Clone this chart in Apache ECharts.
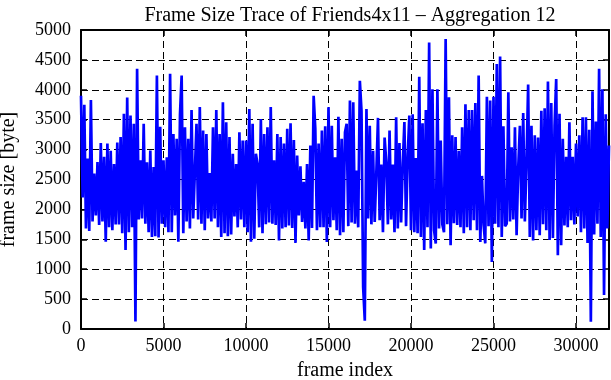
<!DOCTYPE html>
<html>
<head>
<meta charset="utf-8">
<script src="https://cdn.jsdelivr.net/npm/echarts@6/dist/echarts.min.js"></script>
<style>html,body{margin:0;padding:0;background:#fff;}#c{width:611px;height:380px;}</style>
</head>
<body>
<div id="c"></div>
<script>
// Aggregated frame sizes (byte), one value every frameStep frames
const frameStep = 100;
const sizes00k = [3900,2200,3750,1680,2850,1640,3830,1800,2600,1900,2790,1740,3110,1800,2880,1460,3100,1700,2980,1650,2760,1750,3120,1750,3210,1600,3600,1320,3870,1620,3570,1700,3430,125,4350,1830,2820,1850,3430,1760,2790,1620,2985,1540,2710,1550,4240,1530,3380,1760,2820,1700,2870,1620,4270];
const sizes05k = [1620,3260,1900,3180,1460,3590,4240,1600,3375,1800,3180,1680,3660,1850,2620,3430,1830,3710,1760,3320,1650,3260,1850,2610,1800,3375,1850,3660,1700,3260,1540,3790,1600,3455,1550,3210,1580,2930,1880,2760,1700,3290,1830,3150,1700,3150,1620,3680,1460,3430,1510,2930,2760];
const sizes10k = [1700,3510,1600,3260,1750,3375,1780,3710,1760,2820,1740,3260,1480,3210,1680,3100,1700,3350,1730,3440,1690,3160,1440,2900,1900,2720,1790,2460,1680,2760,1480,3070,1690,3900,3350,1650,3100,1700,3320,1700,3390,1457,3710,1700,3400,1820,2870,1650,3550,1570,3180,1620,3290];
const sizes16k = [3430,1720,3820,1780,3790,1760,2650,1700,4150,3650,700,140,3680,1850,3400,1750,2980,1790,2620,3530,1820,2750,1620,3200,2800,1750,3320,1830,2750,1620,3540,1680,3110,1780,2760,3460,1720,2900,3570,1650,3590,1620,2860,1600,4220,1540,3440,1320,3660,1700,4790,1345,4010,1650];
const sizes21k = [1430,4010,1680,3150,1750,1620,4850,1750,3875,1400,3240,1770,3210,1740,2980,1700,3375,1600,3760,1700,3660,1650,3660,1820,3780,1650,4240,1457,2560,1740,1430,3885,1720,3820,1120,3885,1760,4430,1700,4555,1540,3390,1720,1760,3960,1800,3040,1830,3375,1570,2710,3400,1850];
const sizes26k = [3610,1800,2790,4090,1540,3400,1480,3240,1650,3200,1570,3650,1750,3690,1650,4140,1490,3780,1520,3400,4180,1235,3600,1400,3180,1730,2880,1700,3455,1820,2880,1750,3100,1880,3240,1620,3540,1680,3540,1440,3330,120,3975,1580,3470,1760,4350,1540,4010,570,3590,1680,3070];
const frameSize = [].concat(sizes00k, sizes05k, sizes10k, sizes16k, sizes21k, sizes26k);

const xTicks = {min: 0, max: 32000, interval: 5000};
const yTicks = {min: 0, max: 5000, interval: 500};
const titleText = 'Frame Size Trace of Friends4x11 \u2013 Aggregation 12';
const xName = 'frame index';
const yName = 'frame size [byte]';

const seriesData = frameSize.map((v, i) => [i * frameStep, v]);

const FONT = '"Liberation Serif", "DejaVu Serif", serif';
const chart = echarts.init(document.getElementById('c'), null, {renderer: 'canvas'});
const dash = {color: '#000', width: 1, type: [7, 4]};
chart.setOption({
  animation: false,
  backgroundColor: '#fff',
  title: {
    text: titleText, left: 345, top: 1, textAlign: 'center',
    textStyle: {fontFamily: FONT, fontSize: 20, fontWeight: 'normal', color: '#000'}
  },
  grid: {left: 81, right: 2, top: 30, bottom: 51, containLabel: false, outerBoundsMode: 'none'},
  xAxis: [{
    type: 'value', position: 'bottom', min: xTicks.min, max: xTicks.max, interval: xTicks.interval,
    name: xName, nameLocation: 'middle', nameGap: 32,
    nameTextStyle: {fontFamily: FONT, fontSize: 20, color: '#000'},
    axisLine: {show: true, onZero: false, lineStyle: {color: '#000', width: 2}},
    axisTick: {show: true, inside: true, length: 6, lineStyle: {color: '#000', width: 1.5}},
    axisLabel: {fontFamily: FONT, fontSize: 18, color: '#000', margin: 8,
      formatter: v => (v % 5000 === 0 ? String(v) : '')},
    splitLine: {show: true, lineStyle: dash}
  }, {
    type: 'value', position: 'top', min: xTicks.min, max: xTicks.max, interval: xTicks.interval,
    axisLine: {show: true, onZero: false, lineStyle: {color: '#000', width: 2}},
    axisTick: {show: true, inside: true, length: 6, lineStyle: {color: '#000', width: 1.5}},
    axisLabel: {show: false}, splitLine: {show: false}
  }],
  yAxis: [{
    type: 'value', position: 'left', min: yTicks.min, max: yTicks.max, interval: yTicks.interval,
    name: yName, nameLocation: 'middle', nameGap: 62, nameRotate: 90,
    nameTextStyle: {fontFamily: FONT, fontSize: 20, color: '#000'},
    axisLine: {show: true, onZero: false, lineStyle: {color: '#000', width: 2}},
    axisTick: {show: true, inside: true, length: 6, lineStyle: {color: '#000', width: 1.5}},
    axisLabel: {fontFamily: FONT, fontSize: 18, color: '#000', margin: 10, formatter: v => String(v)},
    splitLine: {show: true, lineStyle: dash}
  }, {
    type: 'value', position: 'right', min: yTicks.min, max: yTicks.max, interval: yTicks.interval,
    axisLine: {show: true, onZero: false, lineStyle: {color: '#000', width: 2}},
    axisTick: {show: true, inside: true, length: 6, lineStyle: {color: '#000', width: 1.5}},
    axisLabel: {show: false}, splitLine: {show: false}
  }],
  series: [{
    type: 'line', xAxisIndex: 0, yAxisIndex: 0, data: seriesData,
    showSymbol: false, symbol: 'none', z: 1,
    lineStyle: {color: '#0000ff', width: 2.7}
  }]
});
</script>
</body>
</html>
